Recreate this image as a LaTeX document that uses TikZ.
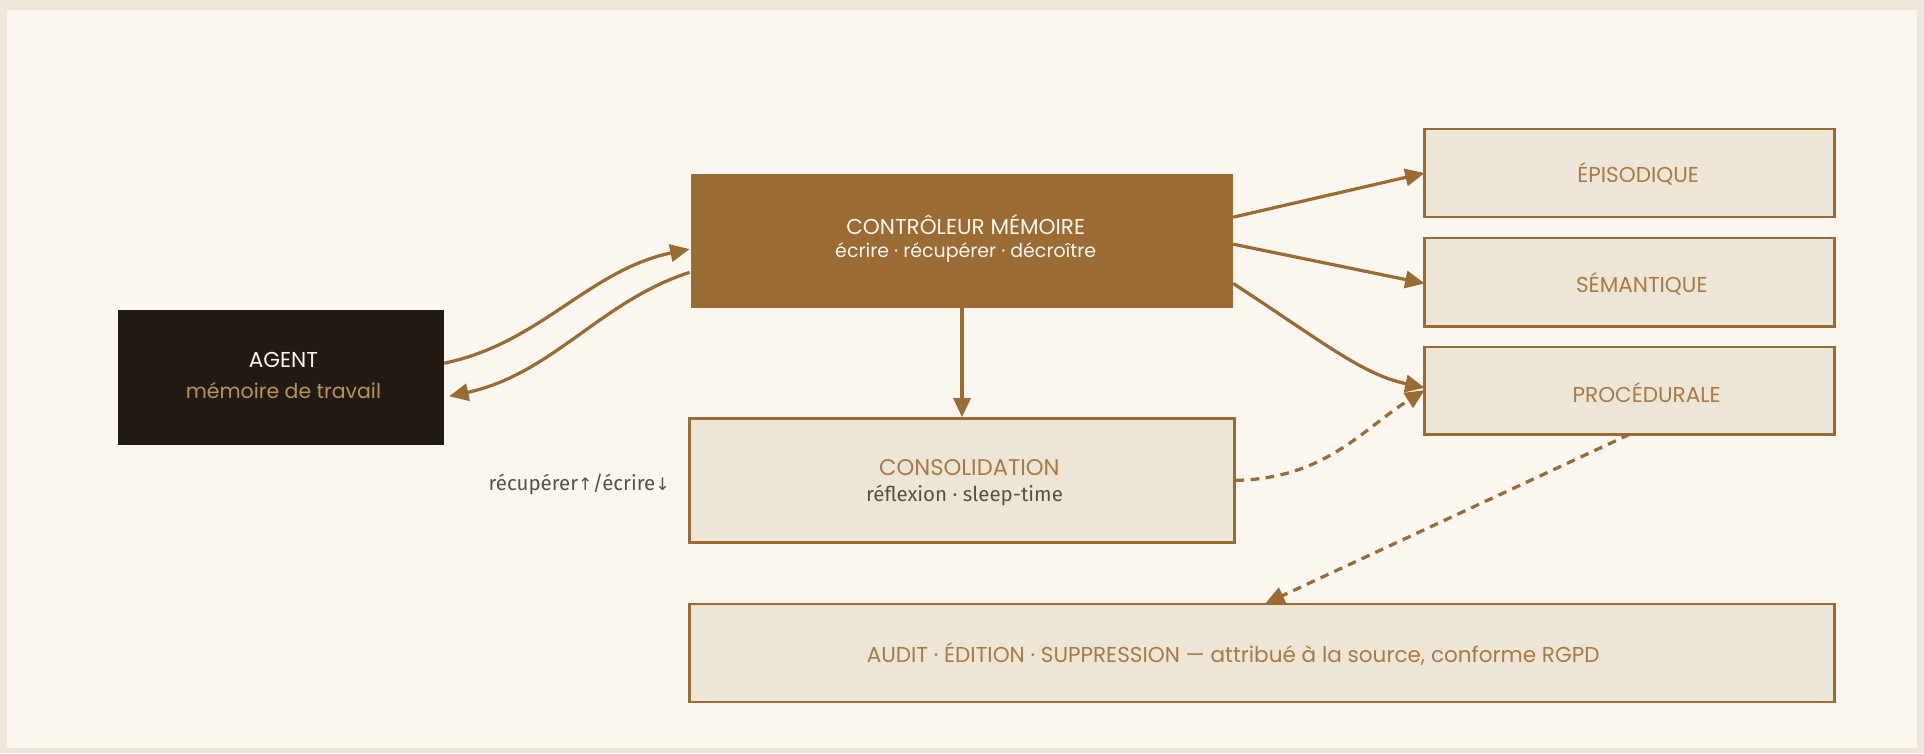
\documentclass[tikz,border=0pt]{standalone}
\usepackage{fontspec}
\setmainfont{Poppins}
\newfontfamily\fira{Fira Sans}
\newfontfamily\dejavu{DejaVu Sans}
\usetikzlibrary{arrows.meta}
\definecolor{bg}{HTML}{FBF7F0}
\definecolor{frame}{HTML}{EEE6D8}
\definecolor{brown}{HTML}{9A6B33}
\definecolor{boxfill}{HTML}{EDE5D5}
\definecolor{dark}{HTML}{221A14}
\definecolor{txt}{HTML}{A87A45}
\definecolor{gray}{HTML}{5A5048}
\definecolor{gold}{HTML}{B8925A}
\begin{document}
\begin{tikzpicture}[x=0.02cm,y=-0.02cm,
  box/.style={draw=brown,fill=boxfill,line width=1.1pt,inner sep=0},
  lbl/.style={font=\fontsize{10}{12}\selectfont,text=txt},
  sub/.style={font=\fira\fontsize{9.5}{12}\selectfont,text=gray},
  arr/.style={draw=brown,line width=1.5pt,-{Triangle[length=9pt,width=8pt]}},
  dasharr/.style={arr,dash pattern=on 4pt off 3pt}]
\useasboundingbox (0,0) rectangle (1568,614);
\fill[frame] (0,0) rectangle (1568,614);
\fill[bg] (6,8) rectangle (1562,610);
\node[fill=dark,minimum width=266*0.02cm,minimum height=110*0.02cm,inner sep=0] (agent) at (229,308) {};
\node[font=\fontsize{10}{12}\selectfont,text=bg] (agentt) at (231,293) {AGENT};
\node[font=\fontsize{9.5}{12}\selectfont,text=gold] (agents) at (231,318) {mémoire de travail};
\node[fill=brown,minimum width=442*0.02cm,minimum height=109*0.02cm,inner sep=0] (ctrl) at (784,196.5) {};
\node[font=\fontsize{10}{12}\selectfont,text=bg] (ctrlt) at (787,183) {CONTRÔLEUR MÉMOIRE};
\node[font=\fontsize{8.8}{12}\selectfont,text=bg] (ctrls) at (787,206) {écrire · récupérer · décroître};
\node[box,minimum width=334*0.02cm,minimum height=72*0.02cm] (epi) at (1328,141) {};
\node[lbl] at (1335,142) {ÉPISODIQUE};
\node[box,minimum width=334*0.02cm,minimum height=72*0.02cm] (sem) at (1328,230) {};
\node[lbl] at (1338,231) {SÉMANTIQUE};
\node[box,minimum width=334*0.02cm,minimum height=71*0.02cm] (proc) at (1328,318.5) {};
\node[lbl] at (1342,320) {PROCÉDURALE};
\node[box,minimum width=444*0.02cm,minimum height=101*0.02cm] (cons) at (784,391.5) {};
\node[lbl,font=\fontsize{10.5}{12}\selectfont] at (790,381) {CONSOLIDATION};
\node[sub] at (786,404) {réflexion · sleep-time};
\node[box,minimum width=933*0.02cm,minimum height=80*0.02cm] (audit) at (1028.5,532) {};
\node[lbl] at (1005,533) {AUDIT · ÉDITION · SUPPRESSION — attribué à la source, conforme RGPD};
\node[sub] (rl) at (472,395) {récupérer{\dejavu\fontsize{8}{10}\selectfont↑}/écrire{\dejavu\fontsize{8}{10}\selectfont↓}};
\coordinate (a1) at (362,296);
\coordinate (c1) at (562,203);
\coordinate (c2) at (562,222);
\coordinate (a2) at (366,323);
\draw[arr] (a1) .. controls (440,280) and (480,220) .. (c1);
\draw[arr] (c2) .. controls (490,245) and (450,305) .. (a2);
\draw[arr] (1005,177) -- (1161,141);
\draw[arr] (1005,199) -- (1161,231);
\draw[arr] (1005,231) .. controls (1080,280) and (1110,305) .. (1161,316);
\draw[arr] (ctrl.south) -- (cons.north);
\draw[dasharr] (cons.east) .. controls (1080,390) and (1110,350) .. (1161,318);
\draw[dasharr] (1328,354) -- (1031,492);
\end{tikzpicture}
\end{document}
